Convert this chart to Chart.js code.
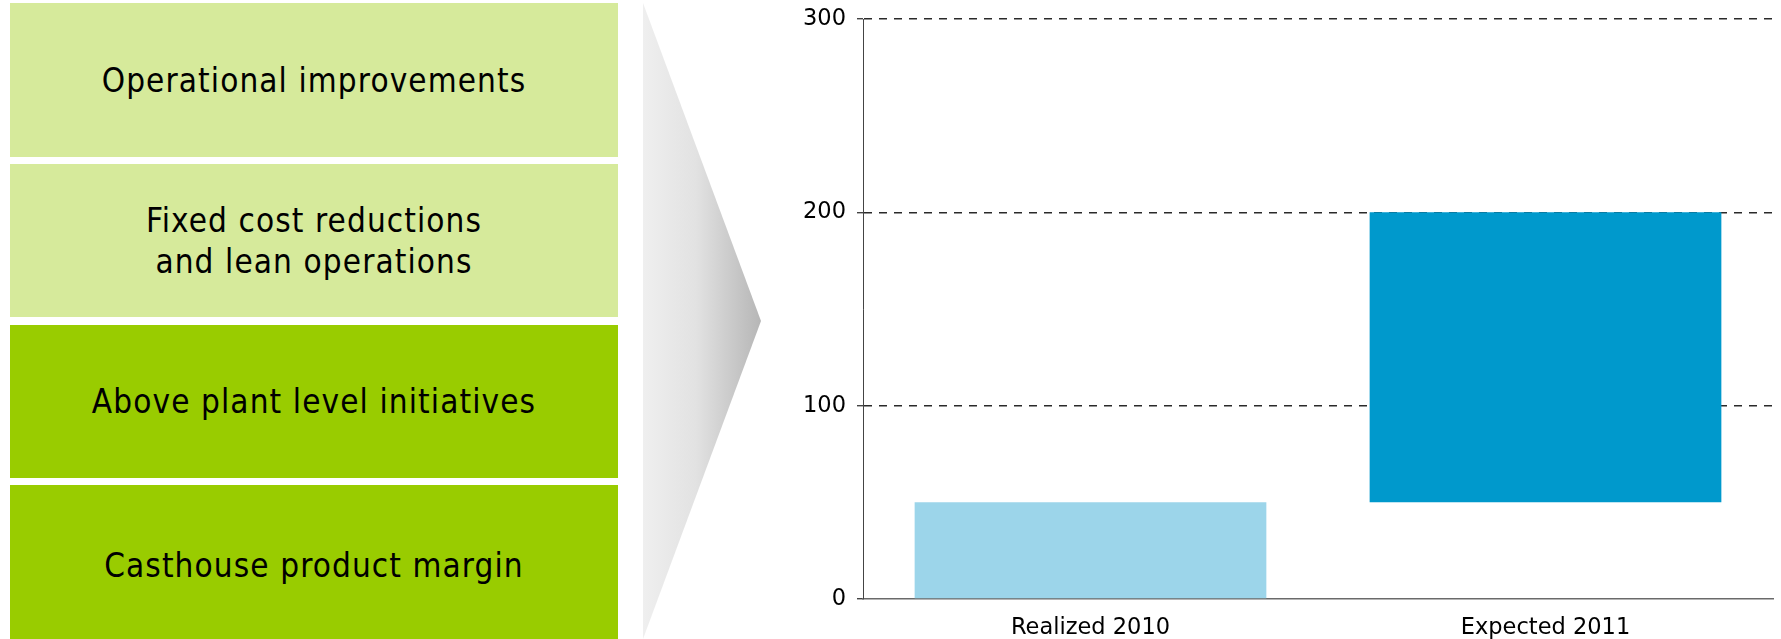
<!DOCTYPE html>
<html>
<head>
<meta charset="utf-8">
<script src="https://cdn.jsdelivr.net/npm/chart.js@4.4.0/dist/chart.umd.min.js"></script>
<style>
  html, body { margin: 0; padding: 0; background: #fff; }
  body { width: 1781px; height: 639px; overflow: hidden; position: relative; }
  .box {
    position: absolute; left: 10px; width: 608px;
    display: flex; align-items: center; justify-content: center; text-align: center;
    font-family: "DejaVu Sans Condensed", "DejaVu Sans", sans-serif; font-size: 33px; letter-spacing: 1.1px;
    line-height: 41px; color: #000;
  }
  .light { background: #d6ea9b; }
  .dark { background: #99cc00; }
  #arrow {
    position: absolute; left: 643px; top: 3px; width: 118px; height: 636px;
    background: linear-gradient(to right, #efefef 0%, #e2e2e2 45%, #b6b6b6 100%);
    clip-path: polygon(0 0, 100% 50%, 0 100%);
  }
  #wrap { position: absolute; left: 780px; top: 0; width: 1001px; height: 680px; }
</style>
</head>
<body>
<div class="box light" style="top:3px;height:154px">Operational improvements</div>
<div class="box light" style="top:164px;height:153px">Fixed cost reductions<br>and lean operations</div>
<div class="box dark" style="top:325px;height:153px">Above plant level initiatives</div>
<div class="box dark" style="top:485px;height:160px">Casthouse product margin</div>
<div id="arrow"></div>
<div id="wrap"><canvas id="chart"></canvas></div>

<script>
// chart values
const categories = ['Realized 2010', 'Expected 2011'];
const barStart = [0, 50];
const barEnd = [50, 200];
const barColors = ['#9cd5ea', '#0099cc'];
const yTicks = [0, 100, 200, 300];

const ranges = categories.map(function (c, i) {
  return [barStart[i], barEnd[i]];
});

const chart = document.querySelector('#chart');
const font = { family: '"DejaVu Sans", Verdana, sans-serif', size: 22.5 };

new Chart(chart, {
  type: 'bar',
  data: {
    labels: categories,
    datasets: [{
      data: ranges,
      backgroundColor: barColors,
      borderWidth: 0,
      barPercentage: 0.773,
      categoryPercentage: 1
    }]
  },
  options: {
    responsive: true,
    maintainAspectRatio: false,
    animation: false,
    layout: { padding: { top: 19, right: 8, bottom: 0, left: 0 } },
    plugins: { legend: { display: false }, tooltip: { enabled: false } },
    scales: {
      x: {
        grid: { display: false, drawTicks: false },
        border: { display: true, color: '#6a6a6a', width: 1.6 },
        ticks: { color: '#000', font: font, padding: 16 },
        afterFit: function (s) { s.height = 81; s.paddingLeft = 0; s.paddingRight = 0; }
      },
      y: {
        min: 0,
        max: 300,
        afterBuildTicks: function (s) {
          s.ticks = yTicks.map(function (v) { return { value: v }; });
        },
        grid: {
          color: function (ctx) { return ctx.tick && ctx.tick.value === 0 ? 'rgba(0,0,0,0)' : '#2a2a2a'; },
          lineWidth: 1.4,
          tickLength: 6,
          tickColor: '#444'
        },
        border: { display: true, color: '#444', width: 1, dash: [8, 7] },
        ticks: { color: '#000', font: font, padding: 11 },
        afterFit: function (s) { s.width = 83; s.paddingTop = 0; s.paddingBottom = 0; }
      }
    }
  }
});
</script>
</body>
</html>
